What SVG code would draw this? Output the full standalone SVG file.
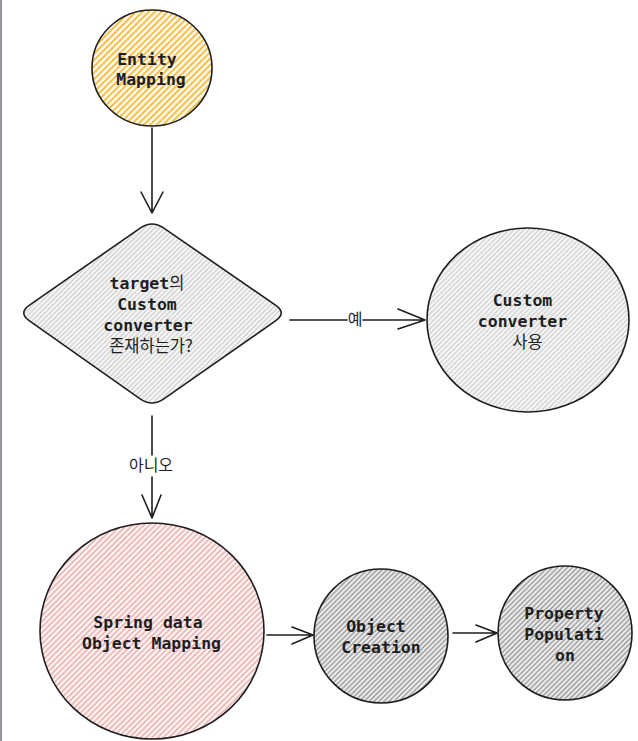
<svg xmlns="http://www.w3.org/2000/svg" width="638" height="741" viewBox="0 0 638 741">
<defs>
<pattern id="hYellow" width="4.5" height="4.5" patternUnits="userSpaceOnUse" patternTransform="rotate(45)">
<rect width="4.5" height="4.5" fill="#fffaf0"/>
<line x1="1" y1="0" x2="1" y2="4.5" stroke="#f4bf4a" stroke-width="2"/>
</pattern>
<pattern id="hPink" width="4" height="4" patternUnits="userSpaceOnUse" patternTransform="rotate(45)">
<rect width="4" height="4" fill="#fff6f6"/>
<line x1="1" y1="0" x2="1" y2="4" stroke="#e9a2a2" stroke-width="1.4"/>
</pattern>
<pattern id="hGray" width="3.5" height="3.5" patternUnits="userSpaceOnUse" patternTransform="rotate(45)">
<rect width="3.5" height="3.5" fill="#f7f7f7"/>
<line x1="1" y1="0" x2="1" y2="3.5" stroke="#c4c4c4" stroke-width="1"/>
</pattern>
<pattern id="hDark" width="3.5" height="3.5" patternUnits="userSpaceOnUse" patternTransform="rotate(45)">
<rect width="3.5" height="3.5" fill="#ececec"/>
<line x1="1" y1="0" x2="1" y2="3.5" stroke="#7c7c7c" stroke-width="1"/>
</pattern>
</defs>
<style>
.shape{stroke:#1e1e1e;stroke-width:1.6}
.t{font-family:"DejaVu Sans Mono","Noto Sans CJK KR",monospace;font-size:16.5px;font-weight:bold;fill:#1e1e1e;text-anchor:middle}
.k{font-family:"Noto Sans CJK KR","Noto Sans",sans-serif;font-weight:normal}
.lbl{font-family:"Noto Sans CJK KR","Noto Sans",sans-serif;font-size:16px;fill:#1e1e1e;text-anchor:middle}
.c{fill:none;stroke:#1e1e1e;stroke-width:1.6;stroke-linecap:round;stroke-linejoin:round}
</style>
<rect width="638" height="741" fill="#ffffff"/>
<line x1="1" y1="0" x2="1" y2="741" stroke="#6b7280" stroke-width="1.5"/>

<g id="connectors">
<path class="c" d="M152 128 L152 213 M141 192 L152 213 L163 192"/>
<path class="c" d="M290 320 L347 320 M363 320 L425 320 M398 309 L425 320 L398 329"/>
<path class="c" d="M152 416 L152 455 M152 477 L152 518 M142 495 L152 518 L161 495"/>
<path class="c" d="M267 635 L313 635 M292 627 L313 635 L292 644"/>
<path class="c" d="M453 633 L497 633 M476 625 L497 633 L476 642"/>
<text class="lbl" x="355" y="325">예</text>
<text class="lbl" x="151" y="471">아니오</text>
</g>

<g id="entity-mapping">
<ellipse class="shape" cx="152" cy="68" rx="60" ry="58" fill="url(#hYellow)"/>
<text class="t" x="147" y="65">Entity</text>
<text class="t" x="151" y="85">Mapping</text>
</g>

<g id="decision">
<path class="shape" fill="url(#hGray)" d="M140.5 227.9 Q152 220 163.5 227.9 L275.5 305.1 Q287 313 275.5 320.9 L163.5 399.1 Q152 407 140.5 399.1 L29.5 320.9 Q18 313 29.5 305.1 Z"/>
<text class="t" x="147" y="289">target<tspan class="k">의</tspan></text>
<text class="t" x="147" y="310">Custom</text>
<text class="t" x="148" y="331">converter</text>
<text class="t k" x="151" y="352">존재하는가?</text>
</g>

<g id="custom-converter">
<ellipse class="shape" cx="528" cy="320" rx="101" ry="92" fill="url(#hGray)"/>
<text class="t" x="522.5" y="306">Custom</text>
<text class="t" x="522.5" y="327">converter</text>
<text class="t k" x="527.5" y="348">사용</text>
</g>

<g id="spring-data">
<ellipse class="shape" cx="152" cy="631" rx="112" ry="108" fill="url(#hPink)"/>
<text class="t" x="148" y="628">Spring data</text>
<text class="t" x="151.5" y="649">Object Mapping</text>
</g>

<g id="object-creation">
<ellipse class="shape" cx="381" cy="636" rx="67" ry="67" fill="url(#hDark)"/>
<text class="t" x="376" y="632">Object</text>
<text class="t" x="381" y="653">Creation</text>
</g>

<g id="property-population">
<ellipse class="shape" cx="565" cy="633" rx="67" ry="67" fill="url(#hDark)"/>
<text class="t" x="564" y="619">Property</text>
<text class="t" x="564" y="640">Populati</text>
<text class="t" x="565" y="661">on</text>
</g>
</svg>
